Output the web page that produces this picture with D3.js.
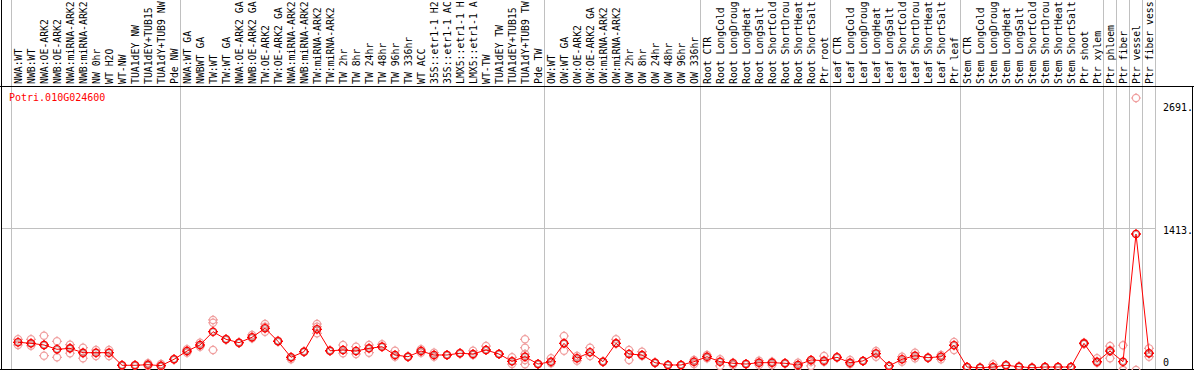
<!DOCTYPE html>
<html><head><meta charset="utf-8">
<script src="https://cdn.jsdelivr.net/npm/d3@7"></script>
<style>body{margin:0;background:#fff;}svg{display:block;}text{font-family:"DejaVu Sans Mono",monospace;font-size:10px;}</style>
</head><body>
<script>
const categories = ["NWA:WT","NWB:WT","NWA:OE-ARK2","NWB:OE-ARK2","NWA:miRNA-ARK2","NWB:miRNA-ARK2","NW 0hr","WT H2O","WT-NW","TUA1dEY NW","TUA1dEY+TUB15","TUA1dY+TUB9 NW","Pde NW",
"NWA:WT GA","NWBWT GA","TW:WT","TW:WT GA","NWA:OE-ARK2 GA","NWB:OE-ARK2 GA","TW:OE-ARK2","TW:OE-ARK2 GA","NWA:miRNA-ARK2","NWB:miRNA-ARK2","TW:miRNA-ARK2","TW:miRNA-ARK2","TW 2hr","TW 8hr","TW 24hr","TW 48hr","TW 96hr","TW 336hr","WT ACC","35S::etr1-1 H2","35S::etr1-1 AC","LMX5::etr1-1 H","LMX5::etr1-1 A","WT-TW","TUA1dEY TW","TUA1dEY+TUB15","TUA1dY+TUB9 TW","Pde TW",
"OW:WT","OW:WT GA","OW:OE-ARK2","OW:OE-ARK2 GA","OW:miRNA-ARK2","OW:miRNA-ARK2","OW 2hr","OW 8hr","OW 24hr","OW 48hr","OW 96hr","OW 336hr",
"Root CTR","Root LongCold","Root LongDroug","Root LongHeat","Root LongSalt","Root ShortCold","Root ShortDrou","Root ShortHeat","Root ShortSalt","Ptr root",
"Leaf CTR","Leaf LongCold","Leaf LongDroug","Leaf LongHeat","Leaf LongSalt","Leaf ShortCold","Leaf ShortDrou","Leaf ShortHeat","Leaf ShortSalt","Ptr leaf",
"Stem CTR","Stem LongCold","Stem LongDroug","Stem LongHeat","Stem LongSalt","Stem ShortCold","Stem ShortDrou","Stem ShortHeat","Stem ShortSalt","Ptr shoot","Ptr xylem",
"Ptr phloem","Ptr fiber","Ptr vessel","Ptr fiber vess"];

// index of the first category of each group (group separators)
const groupStarts = [0,13,41,53,63,73,84,85,86,87,88];

const meanValues = [288,277,260,215,225,180,180,180,49,49,55,45,111,
197,260,398,319,284,340,433,298,132,190,423,200,208,197,225,242,156,138,197,156,156,174,166,208,166,90,138,62,
86,277,122,184,86,277,166,156,76,52,52,
86,138,86,70,62,76,76,70,52,104,
97,132,76,94,171,42,111,149,128,138,
257,31,24,31,49,34,24,31,31,31,277,86,
197,86,1413,174];

const replicateValues = [
[319,260],[319,252],[356,260,149],[298,132],[263,225,174],[232,174,122],[208,145],[208,145],[47,51],[49,49],[70,42],[62,34],[111,111],
[215,180],[242,284],[520,491,208],[319,319],[284,284],[364,329],[478,450,398],[304,298],[132,111],[190,190],[478,450,381],[200,200],[260,174],[242,166],[260,180],[267,242],[200,138],[138,138],[215,180],[180,138],[156,156],[174,174],[200,156],[249,208],[166,166],[132,62],[319,232,166,104,59],[62,62],
[122,70],[353,200],[145,97],[232,145],[86,86],[319,277],[208,104],[190,145],[76,76],[52,52],[52,52],
[104,62],[156,122],[111,42],[76,52],[62,62],[97,52],[86,52],[70,70],[76,34],[86,42],
[145,86],[132,132],[104,62],[94,94],[197,138],[42,42],[138,86],[180,122],[128,128],[156,111],
[291,208],[31,31],[24,24],[59,18],[49,49],[34,34],[24,24],[31,31],[31,31],[31,31],[284,270],[122,76],
[249,208,122],[257,0,0],[2826,0],[225,174,138]];

const yTickValues = [2691, 1413, 0];
const yTickLabels = ["2691.", "1413.", "0"];
const geneId = "Potri.010G024600";

const W = 1194, H = 370;
const svg = d3.select("body").append("svg").attr("width", W).attr("height", H);

const x = d3.scaleBand().domain(d3.range(categories.length)).range([11.5, 1155.5]).paddingInner(0).paddingOuter(0);
const xc = i => x(i) + x.bandwidth()/2;
const y = d3.scaleLinear().domain([0, 1413]).range([370, 234]);
const plotTop = 86;

// group separator lines (full height)
svg.append("g").selectAll("line").data(groupStarts).join("line")
  .attr("x1", d => d < categories.length ? x(d) : x(categories.length-1)+x.bandwidth())
  .attr("x2", d => d < categories.length ? x(d) : x(categories.length-1)+x.bandwidth())
  .attr("y1", 0).attr("y2", H)
  .attr("stroke", "#c0c0c0").attr("stroke-width", 1)
  .attr("shape-rendering", "crispEdges");

// mid horizontal grid line
svg.append("line").attr("x1", 1).attr("x2", 1156).attr("y1", (plotTop+370)/2).attr("y2", (plotTop+370)/2)
  .attr("stroke", "#c0c0c0").attr("shape-rendering", "crispEdges");

// frame
const frame = svg.append("g").attr("stroke", "#000").attr("shape-rendering", "crispEdges");
frame.append("line").attr("x1", 0).attr("x2", W).attr("y1", plotTop).attr("y2", plotTop);
frame.append("line").attr("x1", 1).attr("x2", 1).attr("y1", 0).attr("y2", H);
frame.append("line").attr("x1", 1192.5).attr("x2", 1192.5).attr("y1", plotTop).attr("y2", H);
frame.append("line").attr("x1", 0).attr("x2", W).attr("y1", 369.5).attr("y2", 369.5);

// category labels (rotated)
svg.append("g").selectAll("text").data(categories).join("text")
  .attr("transform", (d, i) => `translate(${xc(i) + 4},84) rotate(-90)`)
  .attr("text-anchor", "start")
  .attr("fill", "#000")
  .style("font-size", "9.8px")
  .text(d => d);

// gene id
svg.append("text").attr("x", 9).attr("y", 101).attr("fill", "#ff0000").text(geneId);

// y tick labels
svg.append("g").selectAll("text").data(yTickValues).join("text")
  .attr("x", 1163)
  .attr("y", (d, i) => d === 0 ? y(d) - 4 : y(d))
  .attr("fill", "#000")
  .text((d, i) => yTickLabels[i]);

const plot = svg.append("g");
function marker(g, cx, cy, color, sw) {
  g.append("circle").attr("cx", cx).attr("cy", cy).attr("r", 3.6)
    .attr("fill", "none").attr("stroke", color).attr("stroke-width", sw);
  [[0,-1],[0,1],[-1,0],[1,0]].forEach(([dx,dy]) => {
    g.append("line").attr("x1", cx + dx*3.6).attr("y1", cy + dy*3.6)
      .attr("x2", cx + dx*5).attr("y2", cy + dy*5)
      .attr("stroke", color).attr("stroke-width", sw);
  });
}
// replicates
const repG = plot.append("g");
replicateValues.forEach((reps, i) => reps.forEach(v => marker(repG, xc(i), y(v), "#f0a0a0", 1.2)));

// mean line
plot.append("path").datum(meanValues)
  .attr("d", d3.line().x((d, i) => xc(i)).y(d => y(d)))
  .attr("fill", "none").attr("stroke", "#ff0000").attr("stroke-width", 1);

const meanG = plot.append("g");
meanValues.forEach((v, i) => {
  marker(meanG, xc(i), y(v), "#ff0000", 1.3);
  meanG.append("circle").attr("cx", xc(i)).attr("cy", y(v)).attr("r", 2.7)
    .attr("fill", "none").attr("stroke", "#400000").attr("stroke-width", 0.6).attr("opacity", 0.5);
});
</script>
</body></html>
